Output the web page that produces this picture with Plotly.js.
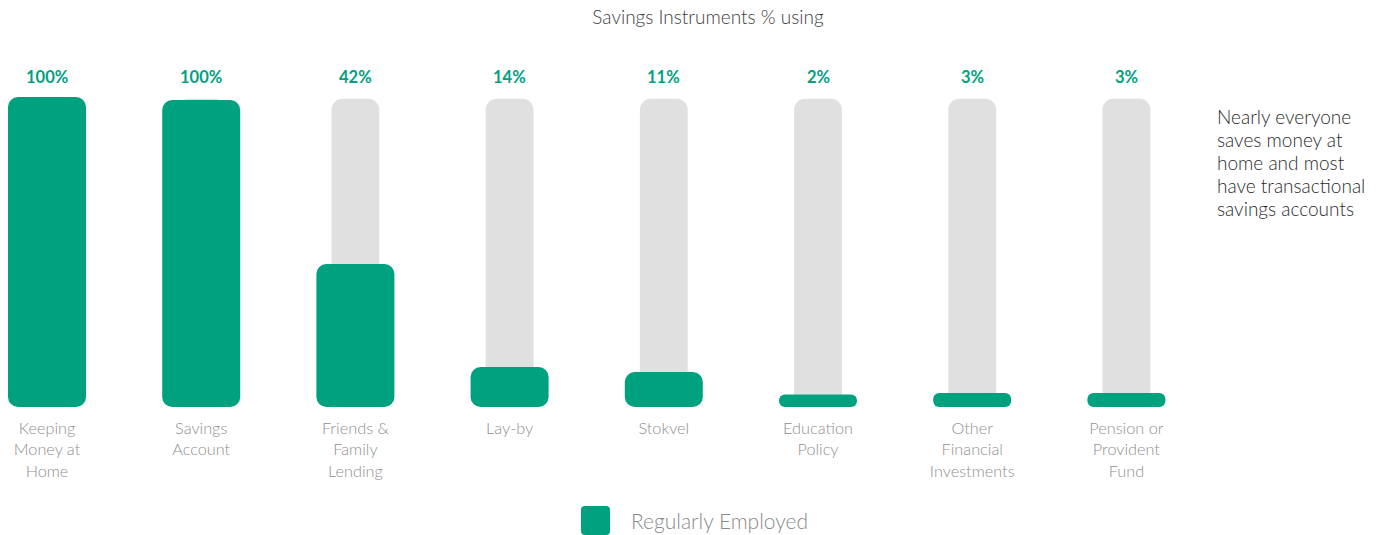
<!DOCTYPE html>
<html>
<head>
<meta charset="utf-8">
<script src="https://cdn.plot.ly/plotly-3.0.1.min.js"></script>
<style>html,body{margin:0;padding:0;background:#fff;}#chart{width:1384px;height:535px;}</style>
</head>
<body>
<div id="chart"></div>
<script>
// ---- data ----
const categories = [
  "Keeping<br>Money at<br>Home",
  "Savings<br>Account",
  "Friends &<br>Family<br>Lending",
  "Lay-by",
  "Stokvel",
  "Education<br>Policy",
  "Other<br>Financial<br>Investments",
  "Pension or<br>Provident<br>Fund"
];
const labelValues = [100, 100, 42, 14, 11, 2, 3, 3];          // printed percentages
const barValues   = [100, 99, 46.1, 12.9, 11.3, 4.0, 4.5, 4.5]; // bar heights as drawn
const trackValues = [99.4, 99.4, 99.4, 99.4, 99.4, 99.4, 99.4, 99.4]; // grey track
const baseValues  = [0, 0, 0, 0, 0, 0, 0, 0];
const seriesName = "Regularly Employed";
const titleText = "Savings Instruments % using";
const noteLines = ["Nearly everyone", "saves money at", "home and most", "have transactional", "savings accounts"];

// ---- styles ----
const TEAL = "#00a17f";
const GREY = "#e0e0e0";
const FONT = "Lato, 'Open Sans', sans-serif";
const idx = categories.map((_, i) => i);
const STEP = 154.2;

const traces = [
  {
    type: "bar", x: idx, y: trackValues, base: baseValues,
    width: 0.31, marker: {color: GREY, cornerradius: 11},
    hoverinfo: "skip", showlegend: false
  },
  {
    type: "bar", x: idx, y: barValues, base: baseValues,
    width: 0.506, marker: {color: TEAL, cornerradius: 10},
    name: seriesName, showlegend: false,
    customdata: labelValues,
    hovertemplate: "%{customdata}%<extra></extra>"
  }
];

const annotations = labelValues.map((v, i) => ({
  x: i, xref: "x", y: 106.5, yref: "y",
  text: "<b>" + v + "%</b>", showarrow: false,
  font: {family: FONT, size: 16.5, color: TEAL},
  xanchor: "center", yanchor: "middle"
}));

noteLines.forEach((line, i) => {
  annotations.push({
    x: 1215 / 1200, xref: "paper", y: (407 - (116 + 23 * i)) / 347, yref: "paper",
    text: line, showarrow: false, align: "left",
    xanchor: "left", yanchor: "middle",
    font: {family: FONT, size: 19, color: "#2a2a2a", weight: 300}
  });
});

// legend (custom)
annotations.push({
  x: 629 / 1200, xref: "paper", y: (407 - 520) / 347, yref: "paper",
  text: seriesName, showarrow: false, xanchor: "left", yanchor: "middle",
  font: {family: FONT, size: 21, color: "#8a8a8a", weight: 300}
});

const r = 4, s = 29;
const sq = `M ${r},0 L ${s - r},0 Q ${s},0 ${s},${r} L ${s},${s - r} Q ${s},${s} ${s - r},${s} L ${r},${s} Q 0,${s} 0,${s - r} L 0,${r} Q 0,0 ${r},0 Z`;

const layout = {
  width: 1384, height: 535,
  margin: {l: 0, r: 184, t: 60, b: 128, pad: 0},
  paper_bgcolor: "#ffffff", plot_bgcolor: "#ffffff",
  barmode: "overlay",
  showlegend: false,
  title: {
    text: titleText, xref: "container", yref: "container",
    x: 708 / 1384, y: 1 - 17 / 535, xanchor: "center", yanchor: "middle",
    font: {family: FONT, size: 19, color: "#404040", weight: 300}
  },
  xaxis: {
    range: [-47 / STEP, (1200 - 47) / STEP],
    tickmode: "array", tickvals: idx, ticktext: categories,
    showgrid: false, zeroline: false, showline: false, ticks: "",
    tickfont: {family: FONT, size: 16.3, color: "#8f8f8f", weight: 300},
    ticklabelstandoff: 10, fixedrange: true
  },
  yaxis: {
    range: [0, 347 / 3.1],
    showgrid: false, zeroline: false, showline: false,
    showticklabels: false, ticks: "", fixedrange: true
  },
  annotations: annotations,
  shapes: [{
    type: "path", xref: "paper", yref: "paper",
    xsizemode: "pixel", ysizemode: "pixel",
    xanchor: 581 / 1200, yanchor: (407 - 535) / 347,
    path: sq, fillcolor: TEAL, line: {width: 0}
  }]
};

Plotly.newPlot("chart", traces, layout, {displayModeBar: false});
</script>
</body>
</html>
